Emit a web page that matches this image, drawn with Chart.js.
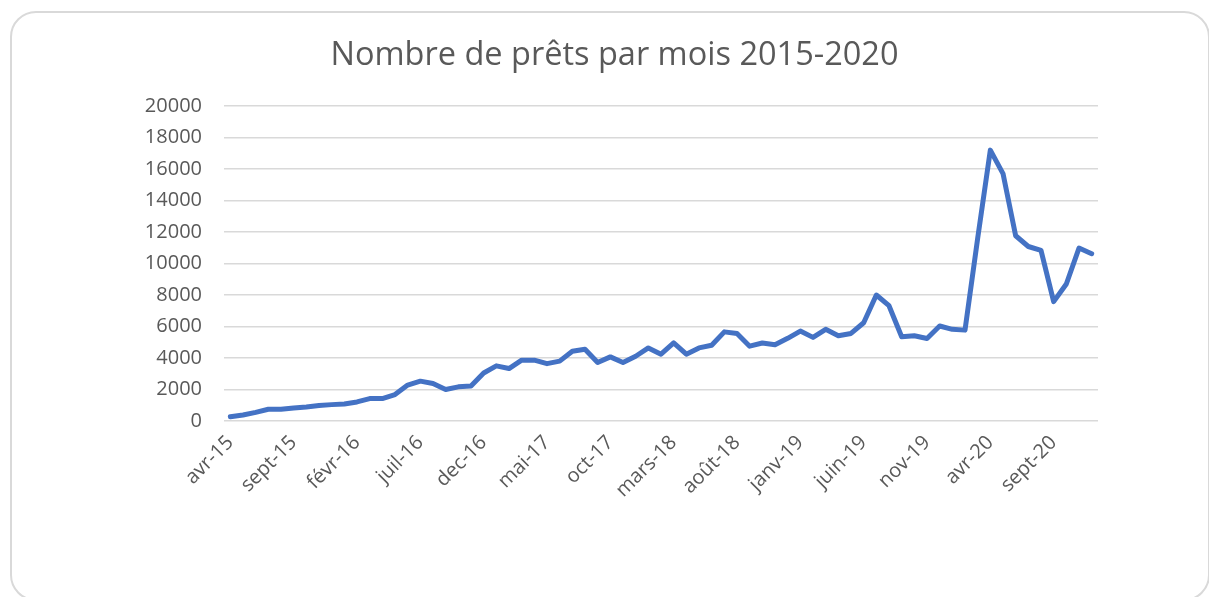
<!DOCTYPE html>
<html>
<head>
<meta charset="utf-8">
<script src="https://cdn.jsdelivr.net/npm/chart.js@4/dist/chart.umd.min.js"></script>
<style>
  html, body { margin: 0; padding: 0; background: #ffffff; }
  body { width: 1209px; height: 597px; position: relative; overflow: hidden; }
  #frame { position: absolute; left: 10px; top: 11px; width: 1200px; height: 590px;
           border: 2px solid #d9d9d9; border-radius: 26px; box-sizing: border-box; }
  #wrap { position: absolute; left: 0; top: 0; width: 1209px; height: 597px; }
</style>
</head>
<body>
<div id="frame"></div>
<div id="wrap"><canvas id="c" width="1209" height="597"></canvas></div>
<script>
const title = "Nombre de prêts par mois 2015-2020";

const months = [
  "avr-15","mai-15","juin-15","juil-15","août-15","sept-15","oct-15","nov-15","dec-15",
  "janv-16","févr-16","mars-16","avr-16","mai-16","juin-16","juil-16","août-16","sept-16","oct-16","nov-16","dec-16",
  "janv-17","févr-17","mars-17","avr-17","mai-17","juin-17","juil-17","août-17","sept-17","oct-17","nov-17","dec-17",
  "janv-18","févr-18","mars-18","avr-18","mai-18","juin-18","juil-18","août-18","sept-18","oct-18","nov-18","dec-18",
  "janv-19","févr-19","mars-19","avr-19","mai-19","juin-19","juil-19","août-19","sept-19","oct-19","nov-19","dec-19",
  "janv-20","févr-20","mars-20","avr-20","mai-20","juin-20","juil-20","août-20","sept-20","oct-20","nov-20","dec-20"
];

const loans = [
  270, 380, 550, 745, 745, 830, 890, 980, 1040,
  1085, 1210, 1425, 1425, 1680, 2280, 2530, 2380, 2000, 2170, 2225, 3050,
  3500, 3330, 3860, 3860, 3640, 3800, 4430, 4560, 3710, 4070, 3710, 4110,
  4640, 4240, 4960, 4240, 4640, 4810, 5660, 5550, 4750, 4950, 4840, 5250,
  5710, 5310, 5820, 5410, 5560, 6240, 8000, 7320, 5350, 5410, 5240, 6030,
  5820, 5770, 11600, 17200, 15710, 11760, 11080, 10830, 7580, 8700, 10980, 10620
];

const yMin = 0, yMax = 20000, yStep = 2000;
const labelEvery = 5;

const textColor = "#595959";
const fontFamily = "'Open Sans', 'Noto Sans', sans-serif";

new Chart(document.getElementById("c"), {
  type: "line",
  data: {
    labels: months,
    datasets: [{
      data: loans,
      borderColor: "#4472C4",
      backgroundColor: "#4472C4",
      borderWidth: 5,
      pointRadius: 0,
      pointHoverRadius: 0,
      tension: 0,
      borderCapStyle: "round",
      borderJoinStyle: "round",
      fill: false
    }]
  },
  options: {
    responsive: false,
    animation: false,
    events: [],
    layout: { padding: { left: 131, right: 111, top: 14, bottom: 56 } },
    plugins: {
      legend: { display: false },
      tooltip: { enabled: false },
      title: {
        display: true,
        text: title,
        color: textColor,
        font: { family: fontFamily, size: 32.5, weight: "normal" },
        padding: { top: 22, bottom: 31 }
      }
    },
    scales: {
      x: {
        type: "category",
        offset: true,
        grid: { display: false, drawTicks: false },
        border: { display: false },
        afterFit: (s) => { s.height = 120; },
        ticks: {
          autoSkip: false,
          maxRotation: 45,
          minRotation: 45,
          padding: 10,
          color: textColor,
          font: { family: fontFamily, size: 20 },
          callback: function (v, i) { return i % labelEvery === 0 ? this.getLabelForValue(v) : ""; }
        }
      },
      y: {
        min: yMin,
        max: yMax,
        afterFit: (s) => { s.width = 93; },
        grid: { color: "#d9d9d9", lineWidth: 1.6, drawTicks: false },
        border: { display: false },
        ticks: {
          stepSize: yStep,
          padding: 22,
          color: textColor,
          font: { family: fontFamily, size: 20 },
          callback: (v) => String(v)
        }
      }
    }
  }
});
</script>
</body>
</html>
